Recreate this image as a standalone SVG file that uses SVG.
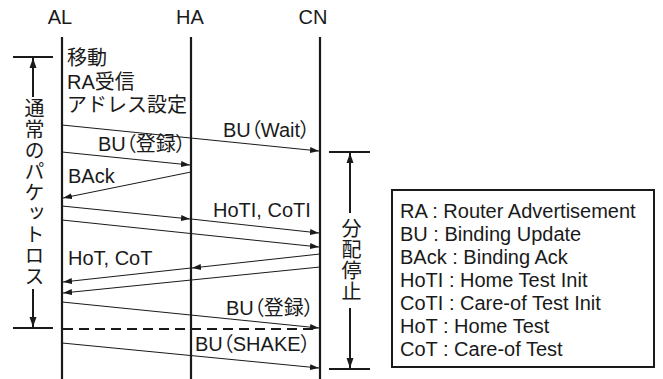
<svg xmlns="http://www.w3.org/2000/svg" width="663" height="379" viewBox="0 0 663 379">
<style>
text{font-family:"Liberation Sans","Noto Sans CJK JP",sans-serif;font-size:20px;fill:#1a1a1a}
.p{font-feature-settings:"palt"}
.mid{text-anchor:middle}
.vt{writing-mode:vertical-rl;text-anchor:middle;letter-spacing:1px}
.life{stroke:#1a1a1a;stroke-width:2.2}
.msg{stroke:#1a1a1a;stroke-width:1;fill:none;marker-end:url(#ah)}
.seg{stroke:#1a1a1a;stroke-width:1;fill:none}
.br{stroke:#1a1a1a;stroke-width:2;fill:none}
.dash{stroke:#1a1a1a;stroke-width:2;stroke-dasharray:10 6}
</style>
<defs>
<marker id="ah" markerUnits="userSpaceOnUse" markerWidth="9" markerHeight="6" refX="9" refY="3" orient="auto">
<path d="M0,0 L9,3 L0,6 z" fill="#1a1a1a"/>
</marker>
<marker id="bh" markerUnits="userSpaceOnUse" markerWidth="10" markerHeight="8" refX="10" refY="4" orient="auto">
<path d="M0,0.5 L10,4 L0,7.5 z" fill="#1a1a1a"/>
</marker>
</defs>

<g id="AL">
<text class="mid" x="60" y="24">AL</text>
<line class="life" x1="62" y1="37" x2="62" y2="379"/>
</g>
<g id="HA">
<text class="mid" x="190" y="24">HA</text>
<line class="life" x1="191" y1="37" x2="191" y2="379"/>
</g>
<g id="CN">
<text class="mid" x="313" y="24">CN</text>
<line class="life" x1="320" y1="37" x2="320" y2="379"/>
</g>

<g id="notes">
<text x="67" y="65">移動</text>
<text x="67" y="89">RA受信</text>
<text x="67" y="112">アドレス設定</text>
</g>

<g id="loss-span">
<line class="br" x1="13" y1="57" x2="53" y2="57"/>
<line class="br" x1="13" y1="328" x2="53" y2="328"/>
<line class="br" x1="33" y1="97" x2="33" y2="58" marker-end="url(#bh)"/>
<line class="br" x1="33" y1="289" x2="33" y2="327" marker-end="url(#bh)"/>
<text class="vt" x="33" y="193">通常のパケットロス</text>
</g>

<g id="stop-span">
<line class="br" x1="329" y1="152" x2="370" y2="152"/>
<line class="br" x1="329" y1="369" x2="370" y2="369"/>
<line class="br" x1="350" y1="213" x2="350" y2="153" marker-end="url(#bh)"/>
<line class="br" x1="350" y1="308" x2="350" y2="368" marker-end="url(#bh)"/>
<text class="vt" x="350" y="260">分配停止</text>
</g>

<g id="connectors">
<line class="msg" x1="62" y1="125" x2="319" y2="151"/>
<line class="msg" x1="62" y1="152" x2="190" y2="165"/>
<line class="msg" x1="191" y1="172" x2="63" y2="198"/>
<line class="msg" x1="62" y1="206" x2="190" y2="219"/>
<line class="msg" x1="191" y1="219" x2="319" y2="233"/>
<line class="msg" x1="62" y1="220" x2="319" y2="247"/>
<line class="msg" x1="320" y1="254" x2="192" y2="268"/>
<line class="msg" x1="191" y1="268" x2="63" y2="282"/>
<line class="msg" x1="320" y1="267" x2="63" y2="293"/>
<line class="msg" x1="62" y1="302" x2="319" y2="328"/>
<line class="dash" x1="63" y1="329" x2="319" y2="329"/>
<line class="msg" x1="62" y1="343" x2="319" y2="368"/>
</g>

<g id="labels">
<text class="p" x="223" y="137">BU（Wait）</text>
<text class="p" x="98" y="151">BU（登録）</text>
<text x="68" y="183">BAck</text>
<text x="213" y="217">HoTI, CoTI</text>
<text x="68" y="265">HoT, CoT</text>
<text class="p" x="226" y="315">BU（登録）</text>
<text class="p" x="195" y="351">BU（SHAKE）</text>
</g>

<g id="legend">
<rect x="392" y="190" width="262" height="177" fill="#fff" stroke="#1a1a1a" stroke-width="2"/>
<text x="400" y="218">RA : Router Advertisement</text>
<text x="400" y="241">BU : Binding Update</text>
<text x="400" y="264">BAck : Binding Ack</text>
<text x="400" y="287">HoTI : Home Test Init</text>
<text x="400" y="310">CoTI : Care-of Test Init</text>
<text x="400" y="333">HoT : Home Test</text>
<text x="400" y="356">CoT : Care-of Test</text>
</g>
</svg>
